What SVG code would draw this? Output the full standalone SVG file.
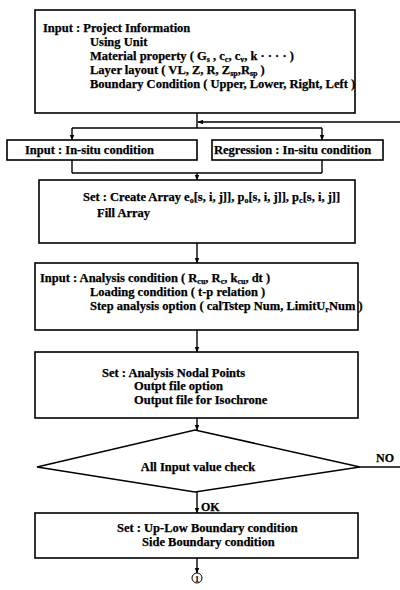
<svg xmlns="http://www.w3.org/2000/svg" width="400" height="590" viewBox="0 0 400 590">
<style>
.box{fill:#fff;stroke:#000;stroke-width:1.6}
.ln{fill:none;stroke:#000;stroke-width:1.4}
text{font-family:"Liberation Serif","Times New Roman",serif;font-weight:bold;font-size:12.5px;fill:#000;stroke:#000;stroke-width:0.25}
.s{font-size:8px}
</style>
<defs>
<marker id="ah" viewBox="0 0 10 10" refX="9" refY="5" markerWidth="6" markerHeight="6" orient="auto-start-reverse" markerUnits="userSpaceOnUse">
<path d="M0,1 L10,5 L0,9 z" fill="#000"/>
</marker>
</defs>
<rect width="400" height="590" fill="#fff"/>
<g id="connectors">
<line class="ln" x1="197" y1="113" x2="197" y2="128"/>
<line class="ln" x1="400" y1="122" x2="198" y2="122" marker-end="url(#ah)"/>
<line class="ln" x1="72" y1="128" x2="322" y2="128"/>
<line class="ln" x1="72" y1="128" x2="72" y2="140" marker-end="url(#ah)"/>
<line class="ln" x1="322" y1="128" x2="322" y2="140" marker-end="url(#ah)"/>
<line class="ln" x1="72" y1="160" x2="72" y2="173"/>
<line class="ln" x1="322" y1="160" x2="322" y2="173"/>
<line class="ln" x1="72" y1="173" x2="322" y2="173"/>
<line class="ln" x1="197" y1="173" x2="197" y2="180" marker-end="url(#ah)"/>
<line class="ln" x1="197" y1="243" x2="197" y2="263" marker-end="url(#ah)"/>
<line class="ln" x1="197" y1="330" x2="197" y2="352" marker-end="url(#ah)"/>
<line class="ln" x1="197" y1="418" x2="197" y2="430" marker-end="url(#ah)"/>
<line class="ln" x1="360" y1="467" x2="400" y2="467"/>
<line class="ln" x1="197" y1="492" x2="197" y2="513" marker-end="url(#ah)"/>
<line class="ln" x1="197" y1="558" x2="197" y2="573" marker-end="url(#ah)"/>
<text x="376" y="462" style="font-size:12px">NO</text>
<text x="201" y="511" style="font-size:12px">OK</text>
</g>
<g id="n1">
<rect class="box" x="35" y="10" width="320" height="103"/>
<text x="43" y="32">Input  :  Project Information</text>
<text x="90" y="46">Using Unit</text>
<text x="90" y="60">Material property ( G<tspan class="s" dy="2">s</tspan><tspan dy="-2"> , c</tspan><tspan class="s" dy="2">c</tspan><tspan dy="-2">, c</tspan><tspan class="s" dy="2">v</tspan><tspan dy="-2">, k · · · · )</tspan></text>
<text x="90" y="74">Layer layout ( VL, Z, R, Z<tspan class="s" dy="2">sp</tspan><tspan dy="-2">,R</tspan><tspan class="s" dy="2">sp</tspan><tspan dy="-2"> )</tspan></text>
<text x="90" y="88">Boundary Condition ( Upper, Lower, Right, Left )</text>
</g>
<g id="n2">
<rect class="box" x="7" y="140" width="190" height="20"/>
<text x="25" y="154">Input  :  In-situ condition</text>
</g>
<g id="n3">
<rect class="box" x="212" y="140" width="171" height="20"/>
<text x="214" y="154">Regression  :  In-situ condition</text>
</g>
<g id="n4">
<rect class="box" x="39" y="180" width="316" height="63"/>
<text x="83" y="201">Set  :  Create Array e<tspan class="s" dy="2">o</tspan><tspan dy="-2">[s, i, j]], p</tspan><tspan class="s" dy="2">o</tspan><tspan dy="-2">[s, i, j]], p</tspan><tspan class="s" dy="2">c</tspan><tspan dy="-2">[s, i, j]]</tspan></text>
<text x="97" y="217">Fill Array</text>
</g>
<g id="n5">
<rect class="box" x="35" y="263" width="323" height="67"/>
<text x="40" y="282">Input  :  Analysis condition ( R<tspan class="s" dy="2">cu</tspan><tspan dy="-2">, R</tspan><tspan class="s" dy="2">c</tspan><tspan dy="-2">, k</tspan><tspan class="s" dy="2">cu</tspan><tspan dy="-2">, dt )</tspan></text>
<text x="90" y="296">Loading  condition ( t-p relation )</text>
<text x="90" y="310">Step analysis option ( calTstep Num, LimitU<tspan class="s" dy="2">r</tspan><tspan dy="-2">Num )</tspan></text>
</g>
<g id="n6">
<rect class="box" x="35" y="352" width="323" height="66"/>
<text x="102" y="377">Set  :  Analysis Nodal Points</text>
<text x="134" y="390">Outpt file option</text>
<text x="134" y="404">Output file for Isochrone</text>
</g>
<g id="n7">
<polygon class="box" points="37,467 195,430 360,467 195,492"/>
<text x="198" y="471" text-anchor="middle">All Input value check</text>
</g>
<g id="n8">
<rect class="box" x="35" y="513" width="323" height="45"/>
<text x="117" y="532">Set  :  Up-Low Boundary condition</text>
<text x="142" y="546">Side Boundary condition</text>
</g>
<g id="n9">
<circle cx="197" cy="578" r="5" fill="#fff" stroke="#000" stroke-width="1"/>
<text x="197" y="581.5" text-anchor="middle" style="font-size:9px;stroke-width:0">1</text>
</g>
</svg>
